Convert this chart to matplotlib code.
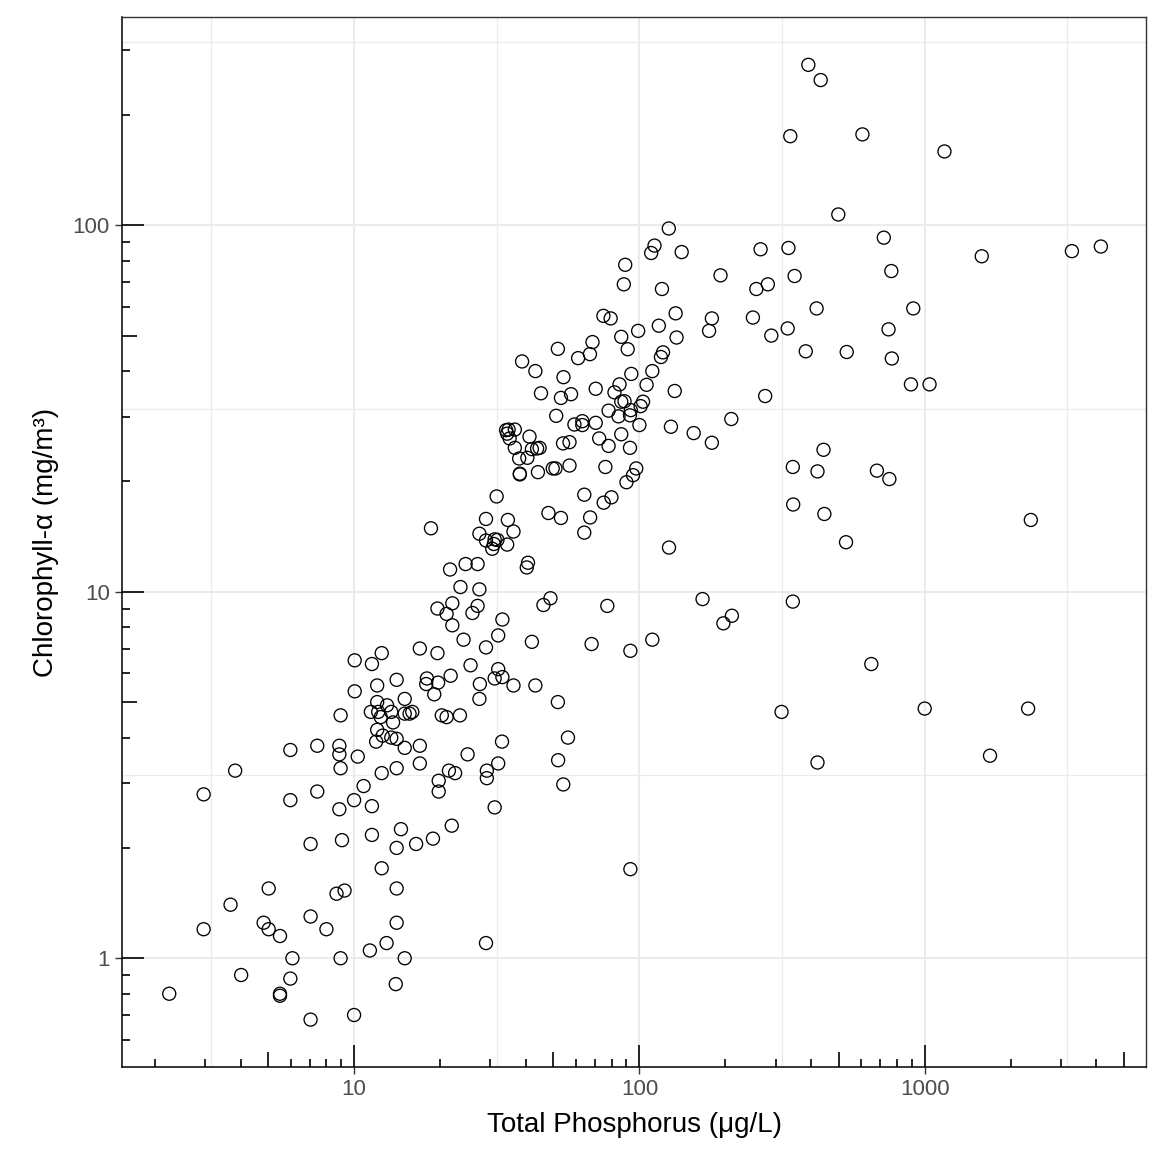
import numpy as np
import matplotlib
matplotlib.use('Agg')
from matplotlib import pyplot as plt
from matplotlib.ticker import NullFormatter

# total phosphorus (ug/L) and chlorophyll-a (mg/m3)
tp = [2.25, 2.97, 2.97, 3.69, 3.83, 4.02, 4.82, 5.02, 5.02, 5.5,
      6.08, 5.98, 5.5, 5.5, 7.04, 10.0, 8.97, 7.04, 8.0, 8.68,
      9.26, 11.36, 13.0, 15.05, 14.0, 14.1, 14.1, 12.5, 14.1, 14.6,
      16.5, 18.9, 11.55, 9.07, 7.04, 8.88, 11.55, 10.0, 10.8, 5.98,
      7.43, 5.98, 7.43, 8.88, 8.88, 8.97, 10.3, 12.5, 14.1, 17.0,
      17.0, 15.05, 19.8, 19.8, 22.0, 31.1, 21.5, 22.6, 25.0, 29.2,
      29.2, 32.0, 33.0, 29.0,
      8.97, 10.05, 10.05, 11.55, 12.5, 12.05, 14.1, 12.05, 13.05, 11.45,
      12.15, 13.5, 12.4, 13.7, 12.05, 12.6, 11.95, 13.5, 14.1, 15.05,
      15.65, 16.0, 15.05, 17.0, 19.6, 18.0, 17.9, 19.7, 21.8, 19.1,
      20.3, 21.1, 23.5, 25.6, 27.6, 27.5, 31.1, 32.0, 33.1, 36.2,
      43.2, 29.0, 24.2, 32.0, 33.1, 42.0, 22.1, 21.1, 19.6, 22.1,
      23.6, 27.5, 26.0, 27.1, 21.7, 24.6, 27.1, 40.7, 40.3, 46.1,
      48.8,
      18.6, 31.6, 29.0, 34.6, 36.2, 27.5, 29.0, 31.1, 31.8, 30.9,
      30.5, 34.4, 48.0, 53.1, 64.1, 67.2, 64.1, 75.0, 79.8, 76.0,
      90.1, 56.9, 50.8, 49.7, 44.1, 38.1, 38.1, 37.9, 40.5, 36.6,
      42.0, 44.7, 43.8, 41.2, 34.8, 36.6, 34.4, 35.1, 34.1, 54.0,
      56.9, 51.1, 59.2, 63.1, 63.1, 70.3, 72.3, 78.0, 86.4, 92.7,
      78.0, 84.5, 88.7, 86.4, 81.8, 85.2, 70.3, 57.6, 53.1, 45.2,
      54.2, 43.2, 38.8, 51.8, 61.0, 67.1, 68.5, 86.4, 91.0, 93.7,
      126.8, 113, 110, 140.7, 89.2, 88.2, 120, 192.5, 266, 257,
      282, 250, 290, 179.5, 175.5, 134, 117, 135, 99, 74.8,
      79.3, 111, 106, 119, 121, 133, 103, 101, 93.3, 92.7,
      100, 129, 155, 179.5, 210, 276, 97.5, 95.0,
      391, 432, 338, 605, 1173, 498, 719, 333, 1585, 3281,
      4145, 350, 764, 418, 912, 331, 747, 383, 533, 767,
      895, 1040,
      127, 442, 345, 421, 680, 752, 346, 445, 530, 2355,
      166.5, 211, 197, 111, 93, 345, 650, 315, 1000, 2304,
      421, 1694, 93,
      77.2, 68, 51.8, 56.2, 51.9, 54.1]

chla = [0.80, 1.2, 2.8, 1.4, 3.25, 0.9, 1.25, 1.55, 1.2, 1.15,
        1.0, 0.88, 0.80, 0.79, 0.68, 0.70, 1.0, 1.3, 1.2, 1.5,
        1.53, 1.05, 1.1, 1.0, 0.85, 1.25, 1.55, 1.76, 2.0, 2.25,
        2.05, 2.12, 2.17, 2.1, 2.05, 2.55, 2.6, 2.7, 2.95, 2.7,
        2.85, 3.7, 3.8, 3.8, 3.6, 3.3, 3.55, 3.2, 3.3, 3.4,
        3.8, 3.75, 3.05, 2.85, 2.3, 2.58, 3.25, 3.2, 3.6, 3.25,
        3.1, 3.4, 3.9, 1.1,
        4.6, 5.35, 6.5, 6.35, 6.8, 5.55, 5.75, 5.0, 4.9, 4.7,
        4.7, 4.7, 4.55, 4.4, 4.2, 4.05, 3.9, 4.0, 3.97, 4.65,
        4.65, 4.7, 5.1, 7.0, 6.8, 5.8, 5.6, 5.65, 5.9, 5.25,
        4.6, 4.55, 4.6, 6.3, 5.6, 5.1, 5.8, 6.15, 5.85, 5.55,
        5.55, 7.05, 7.4, 7.6, 8.4, 7.3, 8.1, 8.7, 9.0, 9.3,
        10.3, 10.15, 8.75, 9.15, 11.5, 11.9, 11.9, 12.0, 11.65, 9.2,
        9.6,
        14.9, 18.2, 15.8, 15.7, 14.6, 14.4, 13.8, 13.9, 13.85, 13.5,
        13.1, 13.45, 16.4, 15.9, 18.4, 15.95, 14.5, 17.5, 18.1, 21.9,
        19.9, 22.1, 21.7, 21.7, 21.2, 21.0, 20.9, 23.1, 23.2, 24.7,
        24.5, 24.7, 24.6, 26.5, 27.7, 27.7, 27.0, 26.2, 27.6, 25.4,
        25.6, 30.2, 28.6, 29.2, 28.5, 28.9, 26.2, 25.0, 26.9, 24.7,
        31.2, 30.1, 33.1, 33.0, 35.0, 36.8, 35.8, 34.6, 33.8, 34.8,
        38.5, 40.0, 42.5, 46.0, 43.4, 44.5, 48.0, 49.6, 45.9, 39.3,
        98, 88, 84, 84.5, 78, 69, 67, 73, 86, 67,
        69, 56, 50, 55.7, 51.5, 57.5, 53.2, 49.4, 51.5, 56.6,
        55.7, 40, 36.7, 43.7, 45, 35.3, 33, 32.1, 31.3, 30.3,
        28.5, 28.2, 27.1, 25.5, 29.6, 34.2, 21.7, 20.8,
        274, 249, 175, 177, 159, 107, 92.5, 86.7, 82.3, 85,
        87.5, 72.7, 75, 59.3, 59.3, 52.3, 52, 45.3, 45.1, 43.3,
        36.8, 36.8,
        13.2, 24.4, 21.9, 21.3, 21.4, 20.3, 17.3, 16.3, 13.65, 15.7,
        9.55, 8.6, 8.2, 7.4, 6.9, 9.4, 6.35, 4.7, 4.8, 4.8,
        3.42, 3.57, 1.75,
        9.15, 7.2, 5.0, 4.0, 3.47, 2.98]

x_breaks = [10, 100, 1000]
y_breaks = [1, 10, 100]

plt.rcParams['font.family'] = ['Liberation Sans', 'DejaVu Sans']

fig = plt.figure(figsize=(11.6, 11.58), dpi=100)
ax = fig.add_axes([0.1054, 0.0786, 0.8826, 0.9067])
ax.set_xscale('log')
ax.set_yscale('log')

ax.scatter(tp, chla, s=88, facecolors='none', edgecolors='black',
           linewidths=0.95, zorder=3)

ax.set_xticks(x_breaks)
ax.set_xticklabels([str(b) for b in x_breaks])
ax.set_yticks(y_breaks)
ax.set_yticklabels([str(b) for b in y_breaks])
# ggplot style minor grid halfway between decades
ax.set_xticks([10 ** (k + 0.5) for k in range(0, 4)], minor=True)
ax.set_yticks([10 ** (k + 0.5) for k in range(0, 3)], minor=True)
ax.xaxis.set_minor_formatter(NullFormatter())
ax.yaxis.set_minor_formatter(NullFormatter())

xlim = (1.54, 5970)
ylim = (0.505, 370)
ax.set_xlim(*xlim)
ax.set_ylim(*ylim)

ax.grid(which='major', color='#EBEBEB', lw=1.5)
ax.grid(which='minor', color='#EBEBEB', lw=0.9)
ax.set_axisbelow(True)

ax.tick_params(which='major', direction='out', length=5, width=1.0,
               color='#333333', labelcolor='#4D4D4D', labelsize=16, pad=4)
ax.tick_params(which='minor', length=0)

for side in ['top', 'right']:
    ax.spines[side].set_color('#333333')
    ax.spines[side].set_linewidth(1.0)
for side in ['left', 'bottom']:
    ax.spines[side].set_color('black')
    ax.spines[side].set_linewidth(1.1)

# annotation log ticks along bottom and left
xt = ax.get_xaxis_transform()
yt = ax.get_yaxis_transform()
for d in [0.1, 1, 10, 100, 1000]:
    for k in range(1, 10):
        v = k * d
        h = 0.021 if k == 1 else (0.0143 if k == 5 else 0.0078)
        if xlim[0] < v < xlim[1]:
            ax.plot([v, v], [0, h], transform=xt, color='black', lw=1.2,
                    clip_on=False, solid_capstyle='butt', zorder=4)
        if ylim[0] < v < ylim[1]:
            hy = h * 1050 / 1024
            ax.plot([0, hy], [v, v], transform=yt, color='black', lw=1.2,
                    clip_on=False, solid_capstyle='butt', zorder=4)

ax.set_xlim(*xlim)
ax.set_ylim(*ylim)

ax.set_xlabel('Total Phosphorus (μg/L)', fontsize=20, labelpad=8)
ax.set_ylabel('Chlorophyll-α (mg/m³)', fontsize=20, labelpad=10)

fig.savefig('out.png', dpi=100)
